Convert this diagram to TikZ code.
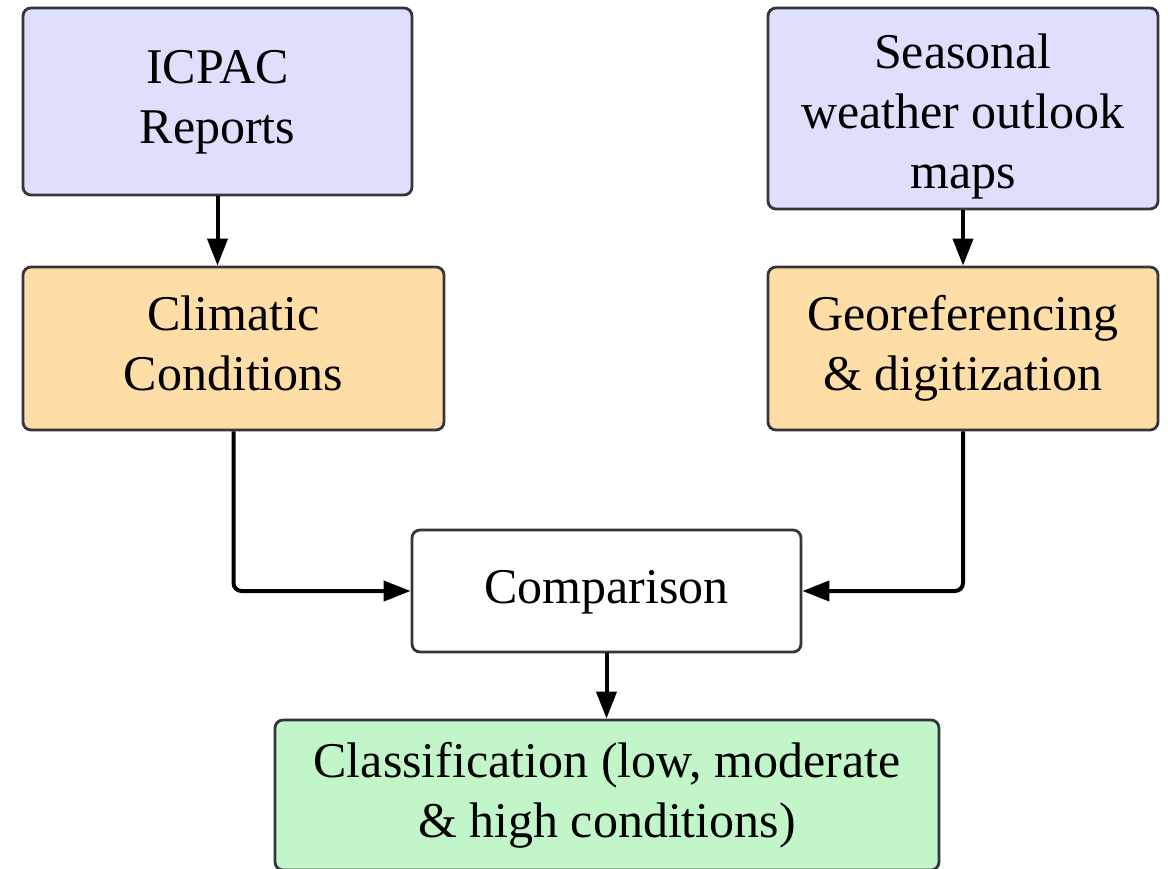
\documentclass[tikz,border=0pt]{standalone}
\usepackage{fontspec}
\setmainfont{Liberation Serif}
\usetikzlibrary{arrows.meta}
\definecolor{lav}{RGB}{222,222,253}
\definecolor{peach}{RGB}{254,221,166}
\definecolor{mint}{RGB}{194,246,200}
\definecolor{boxline}{RGB}{51,54,60}
\newcommand\tallstrut{\rule{0pt}{57pt}}
\begin{document}
\begin{tikzpicture}[x=1pt,y=-1pt,
  box/.style={draw=boxline, line width=2.8pt, rounded corners=8pt, align=center,
    inner sep=0pt, font=\fontsize{50}{60}\selectfont},
  conn/.style={line width=4pt, -{Triangle[length=27pt,width=20pt]}, rounded corners=8pt}]
\useasboundingbox (0,0) rectangle (1168,868);
\node[box, fill=lav, minimum width=389pt, minimum height=187pt] (icpac) at (217.5,101.5) {ICPAC\strut\\Reports\strut};
\node[box, fill=lav, minimum width=390pt, minimum height=201pt] (seas) at (963,108.5) {\tallstrut Seasonal\strut\\weather outlook\strut\\maps\strut};
\node[box, fill=peach, minimum width=421pt, minimum height=163pt] (clim) at (233.5,348.5) {Climatic\strut\\Conditions\strut};
\node[box, fill=peach, minimum width=390pt, minimum height=163pt] (geo) at (963,348.5) {Georeferencing\strut\\\& digitization\strut};
\node[box, fill=white, minimum width=389pt, minimum height=122pt] (comp) at (606.5,591) {Comparison\strut};
\node[box, fill=mint, minimum width=664pt, minimum height=150pt] (cls) at (607,795) {Classification (low, moderate\strut\\\& high conditions)\strut};
\draw[conn] (icpac.south) -- (icpac.south |- clim.north);
\draw[conn] (seas.south) -- (seas.south |- geo.north);
\draw[conn] (clim.south) |- (comp.west);
\draw[conn] (geo.south) |- (comp.east);
\draw[conn] (comp.south) -- (comp.south |- cls.north);
\end{tikzpicture}
\end{document}
